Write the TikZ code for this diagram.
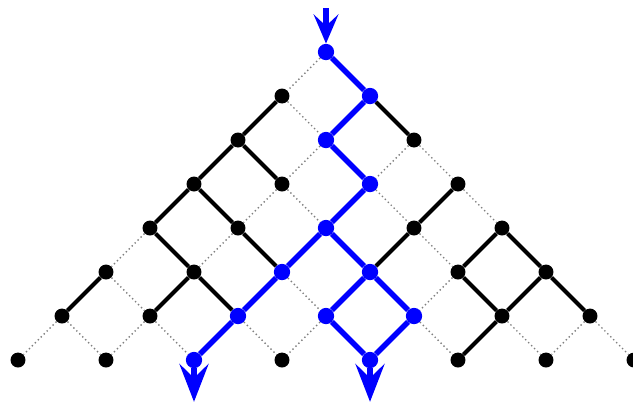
\documentclass[tikz,border=0pt]{standalone}
\usetikzlibrary{arrows.meta,backgrounds}

\begin{document}
\begin{tikzpicture}[
  dot/.style={circle, fill=black, inner sep=0pt, minimum size=3.4mm},
  bdot/.style={circle, fill=blue, inner sep=0pt, minimum size=3.7mm},
  lat/.style={gray, line width=0.9pt, dash pattern=on 0.9pt off 1.8pt},
  link/.style={line width=2.7pt},
  flow/.style={blue, line width=3.6pt},
  arr/.style={-{Stealth[length=6.6mm, width=5.6mm, inset=2.6mm]}},
  bigarr/.style={-{Stealth[length=8.6mm, width=6.6mm, inset=3.2mm]}}
]
\useasboundingbox (-7.409,-7.977) rectangle (6.977,1.182);

% lattice points
\foreach \r/\k in {1/0, 2/0, 2/2, 3/0, 3/1, 3/3, 4/0, 4/1, 4/3, 4/4,
                   5/0, 5/1, 5/4, 5/5, 6/0, 6/1, 6/5, 6/6,
                   7/0, 7/1, 7/3, 7/5, 7/6, 7/7}
  \node[dot] (n\r\k) at ({2*\k-\r},-\r) {};
\foreach \r/\k in {0/0, 1/1, 2/1, 3/2, 4/2, 5/2, 5/3, 6/2, 6/3, 6/4, 7/2, 7/4}
  \node[bdot] (n\r\k) at ({2*\k-\r},-\r) {};

\coordinate (in) at (0,1);
\coordinate (outl) at (-3,-7.95);
\coordinate (outr) at (1,-7.95);

\begin{scope}[on background layer]
  % all bonds, dotted
  \foreach \r in {0,...,6}
    \foreach \k in {0,...,\r} {
      \pgfmathtruncatemacro\rr{\r+1}
      \pgfmathtruncatemacro\kk{\k+1}
      \draw[lat] (n\r\k) -- (n\rr\k);
      \draw[lat] (n\r\k) -- (n\rr\kk);
    }
  % open bonds
  \foreach \a/\b in {10/20, 11/22, 20/30, 20/31, 30/40, 30/41, 40/51, 41/52,
                     51/61, 51/62, 50/60, 33/43, 43/53, 44/54, 44/55,
                     54/65, 55/65, 55/66, 65/75}
    \draw[link] (n\a) -- (n\b);
  % flow paths
  \foreach \a/\b in {00/11, 11/21, 21/32, 32/42, 42/52, 42/53, 52/62, 62/72,
                     53/63, 53/64, 63/74, 64/74}
    \draw[flow] (n\a) -- (n\b);
\end{scope}

\draw[flow, arr] (in) -- (n00);
\draw[flow, bigarr] (n72) -- (outl);
\draw[flow, bigarr] (n74) -- (outr);
\end{tikzpicture}
\end{document}
